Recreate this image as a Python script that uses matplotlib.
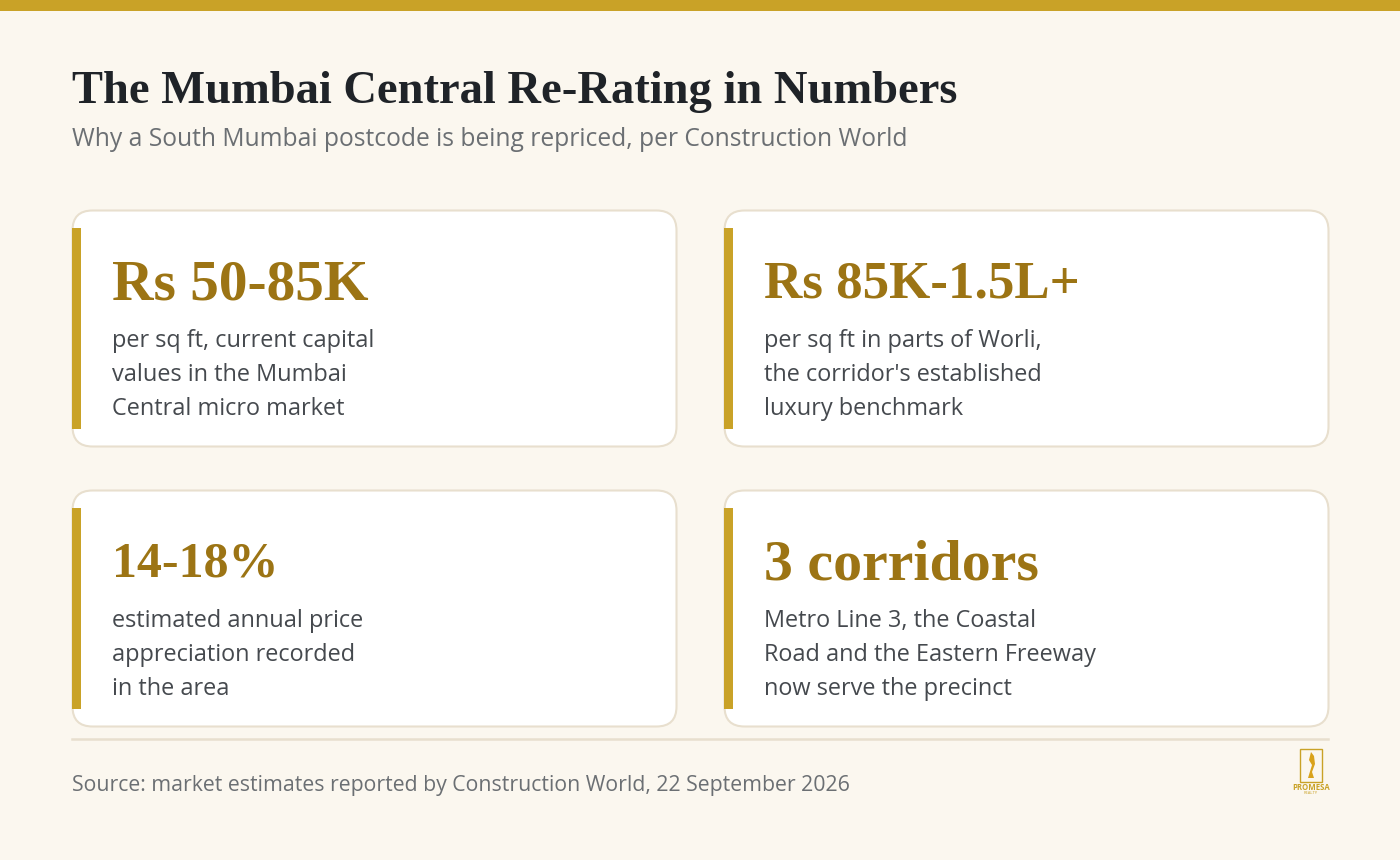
import matplotlib
matplotlib.use("Agg")
import matplotlib.pyplot as plt
from matplotlib.patches import FancyBboxPatch, Rectangle, Polygon

TITLE = "The Mumbai Central Re-Rating in Numbers"
SUBTITLE = "Why a South Mumbai postcode is being repriced, per Construction World"
SOURCE = "Source: market estimates reported by Construction World, 22 September 2026"
HEADLINES = ["Rs 50-85K", "Rs 85K-1.5L+", "14-18%", "3 corridors"]
HEAD_SIZES = [41.3, 38.2, 36, 41.7]
LINES = [
    ["per sq ft, current capital", "values in the Mumbai", "Central micro market"],
    ["per sq ft in parts of Worli,", "the corridor's established", "luxury benchmark"],
    ["estimated annual price", "appreciation recorded", "in the area"],
    ["Metro Line 3, the Coastal", "Road and the Eastern Freeway", "now serve the precinct"],
]
BG = "#FBF7EF"; GOLD = "#C9A227"; DARKGOLD = "#9C7414"; INK = "#1F2328"; GREY = "#6B6F73"; BODY = "#45494E"; EDGE = "#E8DFCE"
SERIF = ["Liberation Serif", "DejaVu Serif"]
SANS = ["Open Sans", "DejaVu Sans"]

fig = plt.figure(figsize=(14, 8.6), dpi=100, facecolor=BG)
ax = fig.add_axes([0, 0, 1, 1])
ax.set_xlim(0, 1400); ax.set_ylim(860, 0); ax.axis("off")
ax.add_patch(Rectangle((0, 0), 1400, 11, fc=GOLD, ec="none"))
ax.text(72, 87, TITLE, fontsize=33.5, fontweight="bold", family=SERIF, color=INK, va="center_baseline")
ax.text(72, 137, SUBTITLE, fontsize=17.7, family=SANS, color=GREY, va="center_baseline")
origins = [(72, 210), (724, 210), (72, 490), (724, 490)]
for (x, y), head, size, lines in zip(origins, HEADLINES, HEAD_SIZES, LINES):
    ax.add_patch(FancyBboxPatch((x + 0.5, y + 0.5), 604, 236, boxstyle="round,pad=0,rounding_size=20", fc="white", ec=EDGE, lw=1.5))
    ax.add_patch(Rectangle((x, y + 18), 9, 201, fc=GOLD, ec="none"))
    ax.text(x + 40, y + 69, head, fontsize=size, fontweight="bold", family=SERIF, color=DARKGOLD, va="center_baseline")
    for i, t in enumerate(lines):
        ax.text(x + 40, y + 128 + 34 * i, t, fontsize=16.9, family=SANS, color=BODY, va="center_baseline")
ax.plot([72, 1328], [739, 739], color=EDGE, lw=1.8)
ax.text(72, 783.5, SOURCE, fontsize=15.3, family=SANS, color=GREY, va="center_baseline")
ax.add_patch(Rectangle((1300, 748.5), 21.5, 33, fc="none", ec=GOLD, lw=1))
ax.add_patch(Polygon([(1308, 778), (1312, 765), (1309, 760), (1311, 752), (1314, 756), (1315, 764), (1312, 772), (1314, 778)], fc="#D9A21B", ec="none"))
ax.text(1311, 787, "PROMESA", fontsize=5.6, fontweight="bold", family=SANS, color=GOLD, ha="center", va="center")
ax.text(1311, 792.5, "REALTY", fontsize=3, family=SANS, color=GOLD, ha="center", va="center")
fig.savefig("out.png", dpi=100, facecolor=BG)
